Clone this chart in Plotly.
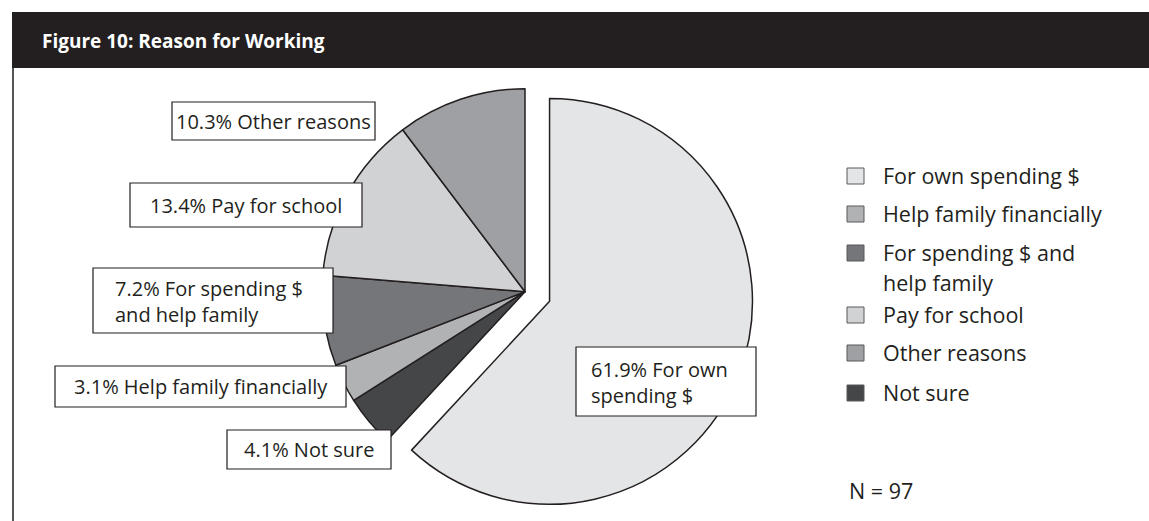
import plotly.graph_objects as go

# Survey answers, clockwise from 12 o'clock
categories = [
    "For own spending $",
    "Not sure",
    "Help family financially",
    "For spending $ and help family",
    "Pay for school",
    "Other reasons",
]
shares = [61.9, 4.1, 3.1, 7.2, 13.4, 10.3]
slice_colors = ["#e4e5e7", "#454648", "#b1b2b4", "#75767a", "#d1d2d4", "#9fa0a3"]
pulls = [0.13, 0, 0, 0, 0, 0]

# Legend listing order
legend_order = [
    "For own spending $",
    "Help family financially",
    "For spending $ and help family",
    "Pay for school",
    "Other reasons",
    "Not sure",
]
legend_text = {
    "For spending $ and help family": ["For spending $ and", "help family"],
}
# Callout text for each slice
callout_lines = {
    "For own spending $": ["61.9% For own", "spending $"],
    "Not sure": ["4.1% Not sure"],
    "Help family financially": ["3.1% Help family financially"],
    "For spending $ and help family": ["7.2% For spending $", "and help family"],
    "Pay for school": ["13.4% Pay for school"],
    "Other reasons": ["10.3% Other reasons"],
}
sample_size = 97
title_text = "Figure 10: Reason for Working"

W, H = 1149, 521
FONT = "Open Sans"
INK = "#231f20"
LABEL_SIZE = 20
LEGEND_SIZE = 21.5


def px(x):
    return x / W


def py(y):
    return 1 - y / H


fig = go.Figure()
fig.add_trace(go.Pie(
    labels=categories,
    values=shares,
    sort=False,
    direction="clockwise",
    rotation=0,
    pull=pulls,
    marker=dict(colors=slice_colors, line=dict(color=INK, width=1.5)),
    textinfo="none",
    hoverinfo="label+percent",
    domain=dict(x=[px(290), px(760)], y=[0, py(62.4)]),
    showlegend=False,
))

shapes = []
annotations = []

# Header band and left rule
shapes.append(dict(type="rect", xref="paper", yref="paper",
                   x0=px(12), x1=1, y0=py(68), y1=py(12),
                   fillcolor=INK, line=dict(width=0), layer="above"))
shapes.append(dict(type="line", xref="paper", yref="paper",
                   x0=px(13), x1=px(13), y0=py(68), y1=0,
                   line=dict(color="#555555", width=2), layer="above"))
annotations.append(dict(text="<b>" + title_text + "</b>", xref="paper", yref="paper",
                        x=px(40), y=py(41), xanchor="left", yanchor="middle",
                        showarrow=False, font=dict(family=FONT, size=19, color="white")))

# Callout boxes: (left, top, right, bottom, text-left or None for centered)
callout_boxes = {
    "Other reasons": (172, 102, 375, 140, None),
    "Pay for school": (130, 183, 362, 227, None),
    "For spending $ and help family": (93, 268, 333, 333, 113),
    "Help family financially": (55, 366, 346, 407, None),
    "Not sure": (227, 430, 391, 469, None),
    "For own spending $": (576, 347, 756, 416, 589),
}
for name in categories:
    x0, y0, x1, y1, tx = callout_boxes[name]
    shapes.append(dict(type="rect", xref="paper", yref="paper",
                       x0=px(x0), x1=px(x1), y0=py(y1), y1=py(y0),
                       fillcolor="white", line=dict(color=INK, width=1.2), layer="above"))
    text = "<br>".join(callout_lines[name])
    if tx is None:
        annotations.append(dict(text=text, xref="paper", yref="paper",
                                x=px((x0 + x1) / 2), y=py((y0 + y1) / 2),
                                xanchor="center", yanchor="middle", showarrow=False,
                                font=dict(family=FONT, size=LABEL_SIZE, color=INK)))
    else:
        annotations.append(dict(text=text, xref="paper", yref="paper",
                                x=px(tx), y=py((y0 + y1) / 2 + 1), align="left",
                                xanchor="left", yanchor="middle", showarrow=False,
                                font=dict(family=FONT, size=LABEL_SIZE, color=INK)))

# Legend
color_of = dict(zip(categories, slice_colors))
legend_rows = [176, 214, 253, 315, 353, 393]
for name, yc in zip(legend_order, legend_rows):
    shapes.append(dict(type="rect", xref="paper", yref="paper",
                       x0=px(847), x1=px(864), y0=py(yc + 8), y1=py(yc - 8),
                       fillcolor=color_of[name], line=dict(color="#58595b", width=1),
                       layer="above"))
    for i, ln in enumerate(legend_text.get(name, [name])):
        annotations.append(dict(text=ln, xref="paper", yref="paper",
                                x=px(881), y=py(yc - 1 + 30 * i),
                                xanchor="left", yanchor="middle", showarrow=False,
                                font=dict(family=FONT, size=LEGEND_SIZE, color=INK)))

annotations.append(dict(text=f"N = {sample_size}", xref="paper", yref="paper",
                        x=px(847), y=py(490), xanchor="left", yanchor="middle",
                        showarrow=False, font=dict(family=FONT, size=LEGEND_SIZE, color=INK)))

fig.update_layout(
    width=W, height=H,
    margin=dict(l=0, r=0, t=0, b=0),
    paper_bgcolor="white",
    plot_bgcolor="white",
    showlegend=False,
    shapes=shapes,
    annotations=annotations,
)

fig.write_html("out.html", config={"displayModeBar": False})
